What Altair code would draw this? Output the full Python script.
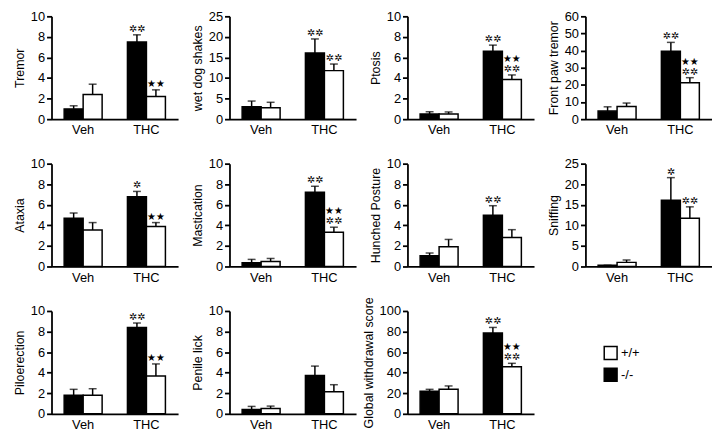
import altair as alt
import pandas as pd

conditions = ["Veh", "Veh", "THC", "THC"]
genotypes = ["-/-", "+/+", "-/-", "+/+"]

panel_titles = ["Tremor", "wet dog shakes", "Ptosis", "Front paw tremor",
                "Ataxia", "Mastication", "Hunched Posture", "Sniffing",
                "Piloerection", "Penile lick", "Global withdrawal score"]
y_max = [10, 25, 10, 60, 10, 10, 10, 25, 10, 10, 100]
y_step = [2, 5, 2, 10, 2, 2, 2, 5, 2, 2, 20]

# order of bars: Veh -/-, Veh +/+, THC -/-, THC +/+
means = [
    [1.0, 2.4, 7.5, 2.2],
    [3.0, 2.8, 16.1, 11.8],
    [0.5, 0.5, 6.6, 3.85],
    [4.7, 7.4, 39.6, 21.2],
    [4.7, 3.55, 6.78, 3.88],
    [0.36, 0.48, 7.22, 3.34],
    [1.04, 1.91, 4.99, 2.81],
    [0.3, 1.0, 16.1, 11.7],
    [1.8, 1.8, 8.4, 3.67],
    [0.42, 0.51, 3.73, 2.14],
    [22.0, 23.8, 78.6, 45.8],
]
sems = [
    [0.3, 1.0, 0.7, 0.65],
    [1.4, 1.3, 3.4, 1.6],
    [0.22, 0.2, 0.6, 0.45],
    [2.5, 2.0, 5.2, 3.0],
    [0.5, 0.72, 0.52, 0.39],
    [0.33, 0.3, 0.58, 0.48],
    [0.27, 0.72, 0.92, 0.77],
    [0.0, 0.58, 5.5, 2.8],
    [0.58, 0.64, 0.43, 1.18],
    [0.3, 0.24, 0.91, 0.69],
    [1.8, 3.3, 5.4, 3.3],
]
A2 = "\u2732\u2732"
A1 = "\u2732"
S2 = "\u2605\u2605"
stars_low = [
    ["", "", A2, S2],
    ["", "", A2, A2],
    ["", "", A2, A2],
    ["", "", A2, A2],
    ["", "", A1, S2],
    ["", "", A2, A2],
    ["", "", A2, ""],
    ["", "", A1, A2],
    ["", "", A2, S2],
    ["", "", "", ""],
    ["", "", A2, A2],
]
stars_high = [
    ["", "", "", ""],
    ["", "", "", ""],
    ["", "", "", S2],
    ["", "", "", S2],
    ["", "", "", ""],
    ["", "", "", S2],
    ["", "", "", ""],
    ["", "", "", ""],
    ["", "", "", ""],
    ["", "", "", ""],
    ["", "", "", S2],
]

FONT = "Liberation Sans"
W, H = 128, 104

legend = alt.Legend(orient="none", legendX=558, legendY=333, title=None,
                    symbolType="square", symbolSize=169, symbolStrokeColor="black",
                    symbolStrokeWidth=1.5, labelFontSize=13, labelFont=FONT,
                    labelColor="black", rowPadding=3, padding=0, labelOffset=3)

panels = []
for i, title in enumerate(panel_titles):
    df = pd.DataFrame({
        "cond": conditions,
        "geno": genotypes,
        "mean": means[i],
        "top": [m + s for m, s in zip(means[i], sems[i])],
        "s1": stars_low[i],
        "s2": stars_high[i],
    })
    ticks = list(range(0, y_max[i] + 1, y_step[i]))
    x = alt.X("cond:N", sort=["Veh", "THC"],
              scale=alt.Scale(paddingInner=0.4, paddingOuter=0.2),
              axis=alt.Axis(title=None, labelAngle=0, ticks=False, labelPadding=5,
                            labelFontSize=13, labelFont=FONT, labelColor="black",
                            domainColor="black", domainWidth=1.8))
    xo = alt.XOffset("geno:N", sort=["-/-", "+/+"])
    yscale = alt.Scale(domain=[0, y_max[i]], nice=False)
    yaxis = alt.Axis(title=title, values=ticks, grid=False, tickSize=5,
                     tickWidth=1.8, tickColor="black", domainColor="black",
                     domainWidth=1.8, labelFontSize=13, labelFont=FONT,
                     labelColor="black", titleFontSize=12.5, titleFont=FONT,
                     titleFontWeight="normal", titleColor="black",
                     titlePadding=4, labelPadding=2, labelOverlap=False,
                     labelFlush=False)
    base = alt.Chart(df)
    bars = base.mark_bar(stroke="black", strokeWidth=1.5).encode(
        x=x, xOffset=xo,
        y=alt.Y("mean:Q", scale=yscale, axis=yaxis),
        fill=alt.Fill("geno:N", scale=alt.Scale(domain=["+/+", "-/-"], range=["white", "black"]),
                      legend=legend),
    )
    err = base.mark_rule(color="black", strokeWidth=1.5).encode(
        x=x, xOffset=xo, y=alt.Y("mean:Q", scale=yscale, axis=yaxis), y2="top:Q")
    cap = base.mark_tick(color="black", thickness=1.5, size=8).encode(
        x=x, xOffset=xo, y=alt.Y("top:Q", scale=yscale, axis=yaxis))
    t1 = base.mark_text(baseline="bottom", dy=-1, fontSize=10, font="DejaVu Sans",
                        color="black").encode(
        x=x, xOffset=xo, y=alt.Y("top:Q", scale=yscale, axis=yaxis), text="s1:N")
    t2 = base.mark_text(baseline="bottom", dy=-11, fontSize=10, font="DejaVu Sans",
                        color="black").encode(
        x=x, xOffset=xo, y=alt.Y("top:Q", scale=yscale, axis=yaxis), text="s2:N")
    panels.append(alt.layer(bars, err, cap, t1, t2).properties(width=W, height=H))

chart = alt.concat(*panels, columns=4, spacing={"row": 45, "column": 52},
                   bounds="flush").resolve_scale(
    x="independent", y="independent"
).properties(padding={"left": 5, "top": 0, "right": 0, "bottom": 0}).configure_view(stroke=None)

chart.save("out.html", embed_options={"renderer": "svg", "actions": False})
